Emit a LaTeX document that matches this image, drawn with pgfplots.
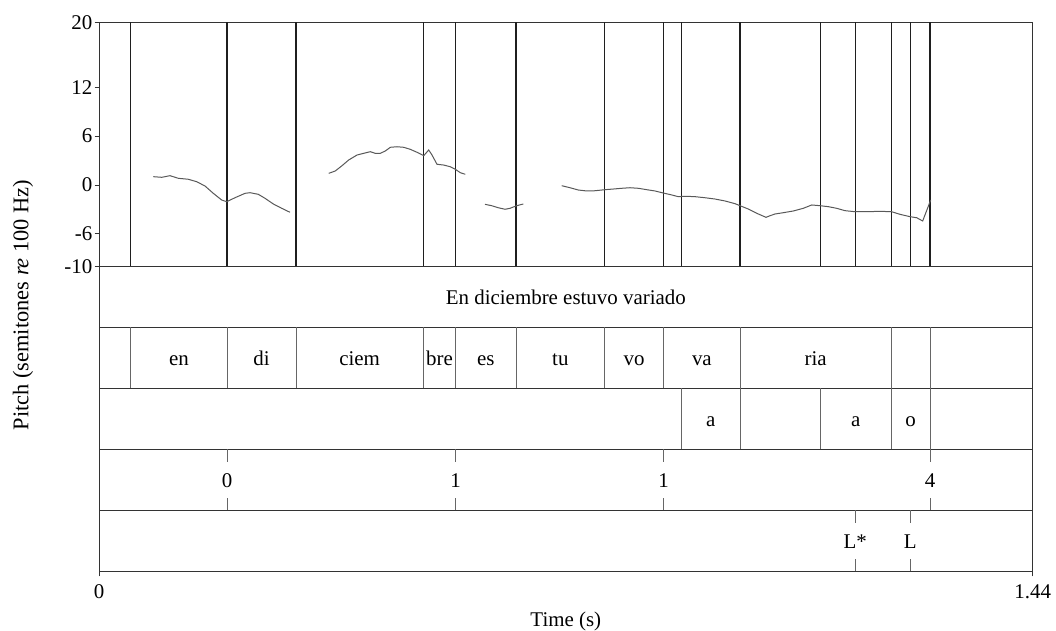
\documentclass[border=0pt]{standalone}
\usepackage{pgfplots}
\pgfplotsset{compat=1.18}
\usepackage{fontspec}
\setmainfont{Liberation Serif}

\definecolor{framecol}{gray}{0.2}
\definecolor{boundcol}{gray}{0.12}
\definecolor{tiercol}{gray}{0.4}
\definecolor{f0col}{gray}{0.35}

\newcommand{\lab}{\fontsize{21}{25}\selectfont}

\begin{document}
\begin{tikzpicture}[font=\lab]
\useasboundingbox (0bp,0bp) rectangle (1056bp,631bp);

% ---------------- pitch panel ----------------
\begin{axis}[
  at={(99bp,364.7bp)}, anchor=south west,
  width=933.7bp, height=244bp, scale only axis,
  xmin=0, xmax=1.44, ymin=-10, ymax=20,
  xtick=\empty,
  ytick={-10,-6,0,6,12,20},
  yticklabels={-10,-6,0,6,12,20},
  ytick pos=left, tick align=outside,
  major tick length=4.5bp,
  tick style={framecol, line width=0.9bp},
  axis line style={framecol, line width=1bp},
  yticklabel style={font=\lab, inner sep=2bp},
  clip=false,
]
% segment boundaries from all tiers
\pgfplotsinvokeforeach{0.0489,0.1974,0.3038,0.5002,0.5501,0.6431,0.7799,0.8709,0.8981,0.9886,1.1120,1.1664,1.2219,1.2512,1.2816}{
  \addplot[boundcol, line width=1.05bp] coordinates {(#1,-10) (#1,20)};
}
% F0 contour, one plot per voiced stretch
\addplot[f0col, line width=1bp] table {
t st
0.0837 1.02
0.0967 0.94
0.1095 1.14
0.1223 0.82
0.1377 0.70
0.1507 0.40
0.1635 -0.13
0.1763 -1.03
0.1892 -1.85
0.1970 -2.06
0.2097 -1.57
0.2252 -1.03
0.2329 -0.95
0.2457 -1.15
0.2560 -1.64
0.2689 -2.34
0.2818 -2.87
0.2946 -3.36
};
\addplot[f0col, line width=1bp] table {
t st
0.3543 1.43
0.3644 1.72
0.3748 2.37
0.3851 3.07
0.3979 3.68
0.4082 3.89
0.4184 4.09
0.4261 3.89
0.4338 3.89
0.4416 4.18
0.4493 4.63
0.4596 4.70
0.4699 4.63
0.4801 4.38
0.4904 4.02
0.5008 3.60
0.5085 4.30
0.5136 3.68
0.5213 2.54
0.5316 2.45
0.5418 2.24
0.5495 1.93
0.5572 1.51
0.5649 1.31
};
\addplot[f0col, line width=1bp] table {
t st
0.5953 -2.38
0.6056 -2.55
0.6158 -2.80
0.6262 -2.99
0.6339 -2.87
0.6442 -2.55
0.6544 -2.34
};
\addplot[f0col, line width=1bp] table {
t st
0.7136 -0.09
0.7264 -0.34
0.7392 -0.62
0.7522 -0.74
0.7650 -0.71
0.7804 -0.58
0.7932 -0.50
0.8061 -0.41
0.8189 -0.34
0.8318 -0.41
0.8447 -0.58
0.8575 -0.74
0.8703 -0.99
0.8833 -1.23
0.8934 -1.44
0.9038 -1.39
0.9192 -1.44
0.9346 -1.57
0.9501 -1.73
0.9655 -1.97
0.9809 -2.30
0.9886 -2.55
1.0014 -2.96
1.0143 -3.48
1.0287 -3.98
1.0349 -3.78
1.0426 -3.57
1.0554 -3.41
1.0708 -3.20
1.0862 -2.87
1.0992 -2.46
1.1120 -2.55
1.1248 -2.67
1.1377 -2.87
1.1505 -3.16
1.1659 -3.29
1.1840 -3.29
1.2045 -3.24
1.2225 -3.29
1.2353 -3.61
1.2508 -3.90
1.2611 -4.03
1.2703 -4.43
1.2827 -1.85
};
\end{axis}

% ---------------- annotation tiers ----------------
\begin{axis}[
  at={(99bp,59.7bp)}, anchor=south west,
  width=933.7bp, height=305bp, scale only axis,
  xmin=0, xmax=1.44, ymin=0, ymax=5,
  ytick=\empty,
  xtick={0,1.44}, xticklabels={0,1.44},
  xtick pos=bottom, tick align=outside,
  major tick length=5bp,
  tick style={framecol, line width=0.9bp},
  axis line style={framecol, line width=1bp},
  xticklabel style={font=\lab, yshift=-5bp},
  xlabel={Time (s)},
  xlabel style={font=\lab, yshift=-6bp},
  clip=false,
]
% tier separators
\pgfplotsinvokeforeach{1,2,3,4}{
  \addplot[framecol, line width=1bp] coordinates {(0,#1) (1.44,#1)};
}
% tier 1: utterance
\node[anchor=base] at (axis cs:0.72,4.372) {En diciembre estuvo variado};
% tier 2: syllables
\pgfplotsinvokeforeach{0.0489,0.1974,0.3038,0.5002,0.5501,0.6431,0.7799,0.8709,0.9886,1.2219,1.2816}{
  \addplot[tiercol, line width=0.8bp] coordinates {(#1,3) (#1,4)};
}
\node[anchor=base] at (axis cs:0.1232,3.372) {en};
\node[anchor=base] at (axis cs:0.2506,3.372) {di};
\node[anchor=base] at (axis cs:0.4020,3.372) {ciem};
\node[anchor=base] at (axis cs:0.5252,3.372) {bre};
\node[anchor=base] at (axis cs:0.5966,3.372) {es};
\node[anchor=base] at (axis cs:0.7115,3.372) {tu};
\node[anchor=base] at (axis cs:0.8254,3.372) {vo};
\node[anchor=base] at (axis cs:0.9298,3.372) {va};
\node[anchor=base] at (axis cs:1.1053,3.372) {ria};
% tier 3: vowels
\pgfplotsinvokeforeach{0.8981,0.9886,1.1120,1.2219,1.2816}{
  \addplot[tiercol, line width=0.8bp] coordinates {(#1,2) (#1,3)};
}
\node[anchor=base] at (axis cs:0.9434,2.372) {a};
\node[anchor=base] at (axis cs:1.1670,2.372) {a};
\node[anchor=base] at (axis cs:1.2518,2.372) {o};
% tier 4: break indices (point tier)
\pgfplotsinvokeforeach{0.1974,0.5501,0.8709,1.2816}{
  \addplot[tiercol, line width=0.8bp] coordinates {(#1,1.8) (#1,2)};
  \addplot[tiercol, line width=0.8bp] coordinates {(#1,1) (#1,1.2)};
}
\node[anchor=base] at (axis cs:0.1974,1.372) {0};
\node[anchor=base] at (axis cs:0.5501,1.372) {1};
\node[anchor=base] at (axis cs:0.8709,1.372) {1};
\node[anchor=base] at (axis cs:1.2816,1.372) {4};
% tier 5: tones (point tier)
\pgfplotsinvokeforeach{1.1664,1.2512}{
  \addplot[tiercol, line width=0.8bp] coordinates {(#1,0.8) (#1,1)};
  \addplot[tiercol, line width=0.8bp] coordinates {(#1,0) (#1,0.2)};
}
\node[anchor=base] at (axis cs:1.1664,0.372) {L*};
\node[anchor=base] at (axis cs:1.2512,0.372) {L};
\end{axis}

\node[rotate=90, font=\fontsize{22.5}{27}\selectfont] at (23bp,326bp) {Pitch (semitones \textit{re} 100 Hz)};
\end{tikzpicture}
\end{document}
